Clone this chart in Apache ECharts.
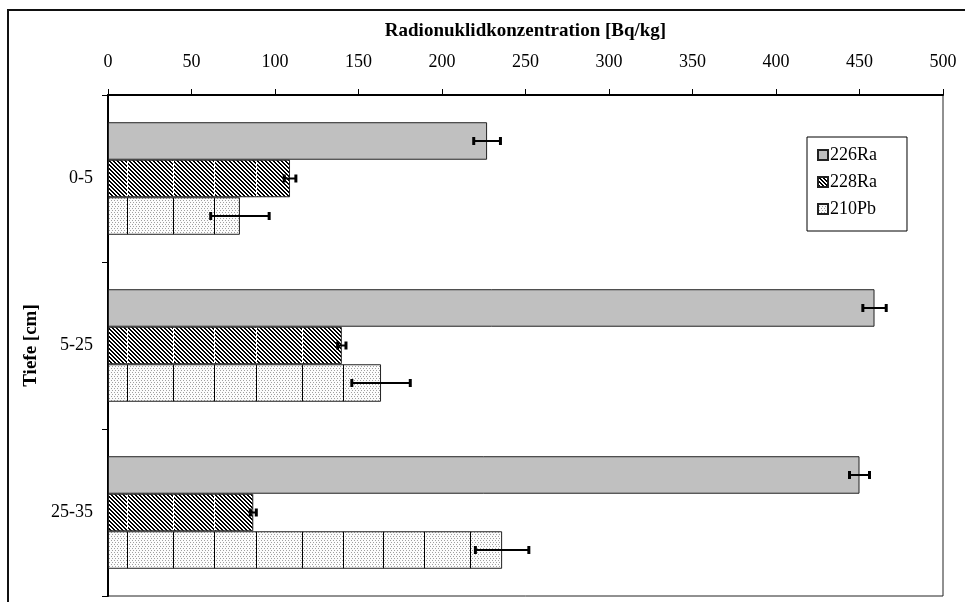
<!DOCTYPE html>
<html>
<head>
<meta charset="utf-8">
<script src="https://cdn.jsdelivr.net/npm/echarts@6/dist/echarts.min.js"></script>
<style>
html,body{margin:0;padding:0;background:#fff;}
#c{width:965px;height:602px;}
</style>
</head>
<body>
<div id="c"></div>
<script>
const categories = ['0-5', '5-25', '25-35'];
const seriesNames = ['226Ra', '228Ra', '210Pb'];
const ra226 = [227, 459, 450];
const ra228 = [109, 140, 87];
const pb210 = [79, 163.5, 236];
const err226 = [8, 7, 6];
const err228 = [3.5, 2.5, 1.8];
const err210 = [17.5, 17.5, 16];
const xTicks = [0, 50, 100, 150, 200, 250, 300, 350, 400, 450, 500];

const W = 965, H = 602;
const stripeX = [127, 173, 214, 256, 302, 343, 383, 424, 470];

function makeHatch() {
  const cv = document.createElement('canvas');
  cv.width = W; cv.height = H;
  const ctx = cv.getContext('2d');
  const img = ctx.createImageData(W, H);
  for (let y = 0; y < H; y++) {
    for (let x = 0; x < W; x++) {
      const i = (y * W + x) * 4;
      const on = (((x - y) % 4) + 4) % 4 < 2;
      const v = on ? 0 : 255;
      img.data[i] = v; img.data[i + 1] = v; img.data[i + 2] = v; img.data[i + 3] = 255;
    }
  }
  ctx.putImageData(img, 0, 0);
  ctx.fillStyle = '#fff';
  stripeX.forEach(function (x) { ctx.fillRect(x, 0, 1, H); });
  return cv;
}

function makeDots() {
  const cv = document.createElement('canvas');
  cv.width = W; cv.height = H;
  const ctx = cv.getContext('2d');
  const img = ctx.createImageData(W, H);
  for (let y = 0; y < H; y++) {
    for (let x = 0; x < W; x++) {
      const i = (y * W + x) * 4;
      const shift = (Math.floor(y / 2) % 2) * 1;
      const on = (y % 2 === 0) && ((x + shift * 2) % 3 === 0);
      const v = on ? 160 : 252;
      img.data[i] = v; img.data[i + 1] = v; img.data[i + 2] = v; img.data[i + 3] = 255;
    }
  }
  ctx.putImageData(img, 0, 0);
  ctx.fillStyle = '#000';
  stripeX.forEach(function (x) { ctx.fillRect(x, 0, 1, H); });
  return cv;
}

const hatch = makeHatch();
const dots = makeDots();
const GAP = 0.326;
const FONT = 'Liberation Serif';

const values = [ra226, ra228, pb210];
const errs = [err226, err228, err210];
const errData = [];
for (let s = 0; s < 3; s++) {
  for (let c = 0; c < categories.length; c++) {
    errData.push([c, values[s][c], errs[s][c], s]);
  }
}

const chart = echarts.init(document.getElementById('c'), null, {renderer: 'canvas'});

const fills = ['#c0c0c0', {image: hatch, repeat: 'repeat'}, {image: dots, repeat: 'repeat'}];

const barSeries = seriesNames.map(function (name, s) {
  return {
    name: name,
    type: 'bar',
    data: values[s],
    barGap: '0%',
    barCategoryGap: (GAP * 100) + '%',
    itemStyle: {color: fills[s], borderColor: '#222', borderWidth: 1},
    emphasis: {disabled: true},
    silent: true,
    z: 2
  };
});

chart.setOption({
  animation: false,
  backgroundColor: '#fff',
  textStyle: {fontFamily: FONT, color: '#000'},
  grid: {left: 108, right: 22, top: 95, bottom: 6, show: true, borderColor: '#222', borderWidth: 1, backgroundColor: 'transparent'},
  legend: {
    orient: 'vertical',
    left: 807, top: 137,
    width: 100,
    data: seriesNames,
    itemWidth: 10, itemHeight: 10, itemGap: 9,
    icon: 'rect',
    padding: [9, 30, 13, 10],
    borderColor: '#000', borderWidth: 1,
    backgroundColor: '#fff',
    selectedMode: false,
    textStyle: {fontFamily: FONT, fontSize: 18, color: '#000', padding: [0, 0, 0, -3]}
  },
  xAxis: {
    type: 'value',
    position: 'top',
    min: 0, max: 500, interval: 50,
    name: 'Radionuklidkonzentration [Bq/kg]',
    nameLocation: 'middle',
    nameGap: 54,
    nameTextStyle: {fontFamily: FONT, fontSize: 19, fontWeight: 'bold', color: '#000'},
    axisLine: {show: true, lineStyle: {color: '#000', width: 2}},
    axisTick: {show: true, length: 6, lineStyle: {color: '#000', width: 1}},
    axisLabel: {fontFamily: FONT, fontSize: 18, color: '#000', margin: 24,
      formatter: function (v) { return xTicks.indexOf(v) >= 0 ? String(v) : ''; }},
    splitLine: {show: false}
  },
  yAxis: {
    type: 'category',
    data: categories,
    inverse: true,
    name: 'Tiefe [cm]',
    nameLocation: 'middle',
    nameGap: 62,
    nameRotate: 90,
    nameTextStyle: {fontFamily: FONT, fontSize: 19, fontWeight: 'bold', color: '#000'},
    axisLine: {show: true, lineStyle: {color: '#000', width: 2}},
    axisTick: {show: true, length: 6, lineStyle: {color: '#000', width: 1}},
    axisLabel: {fontFamily: FONT, fontSize: 18, color: '#000', margin: 15},
    splitLine: {show: false}
  },
  graphic: [{
    type: 'rect',
    shape: {x: 8, y: 10, width: 1200, height: 1200},
    style: {fill: 'none', stroke: '#111', lineWidth: 2},
    silent: true,
    z: 100
  }],
  series: barSeries.concat([{
    type: 'custom',
    name: 'err',
    data: errData,
    silent: true,
    z: 10,
    encode: {x: 1, y: 0},
    renderItem: function (params, api) {
      const c = api.value(0), v = api.value(1), e = api.value(2), s = api.value(3);
      const band = api.size([0, 1])[1];
      const bw = band * (1 - GAP) / 3;
      const center = api.coord([v, c]);
      const y = center[1] + (s - 1) * bw;
      const x1 = api.coord([v - e, c])[0];
      const x2 = api.coord([v + e, c])[0];
      const cap = 4;
      const st = {stroke: '#000', lineWidth: 2};
      return {
        type: 'group',
        children: [
          {type: 'line', shape: {x1: x1, y1: y, x2: x2, y2: y}, style: st},
          {type: 'line', shape: {x1: x1, y1: y - cap, x2: x1, y2: y + cap}, style: {stroke: '#000', lineWidth: 3}},
          {type: 'line', shape: {x1: x2, y1: y - cap, x2: x2, y2: y + cap}, style: {stroke: '#000', lineWidth: 3}}
        ]
      };
    }
  }])
});
</script>
</body>
</html>
